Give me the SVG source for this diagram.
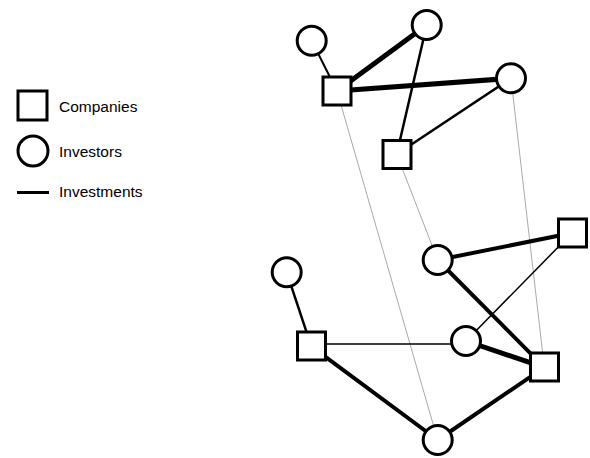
<svg xmlns="http://www.w3.org/2000/svg" width="590" height="458" viewBox="0 0 590 458">
<style>
.co{fill:#fff;stroke:#000;stroke-width:3}
.iv{fill:#fff;stroke:#000;stroke-width:3}
.e{stroke:#000;fill:none}
.g{stroke:#aaa;stroke-width:1;fill:none}
.t{font-family:"Liberation Sans",Arial,sans-serif;font-size:15.5px;fill:#000}
</style>
<rect width="590" height="458" fill="#fff"/>
<g id="legend">
<rect class="co" x="18" y="91" width="29" height="29"/>
<text class="t" x="59" y="112">Companies</text>
<circle class="iv" cx="33" cy="151" r="15"/>
<text class="t" x="59" y="157">Investors</text>
<line class="e" x1="17" y1="192.5" x2="49" y2="192.5" stroke-width="3"/>
<text class="t" x="59" y="197">Investments</text>
</g>
<g id="connectors">
<line class="g" x1="337" y1="91" x2="437.7" y2="440"/>
<line class="g" x1="396.7" y1="154.3" x2="437.7" y2="260"/>
<line class="g" x1="511" y1="78.3" x2="544.3" y2="367.3"/>
<line class="e" stroke-width="2" x1="311.7" y1="40.7" x2="337" y2="91"/>
<line class="e" stroke-width="5" x1="426.7" y1="25" x2="337" y2="91"/>
<line class="e" stroke-width="5" x1="511" y1="78.3" x2="337" y2="91"/>
<line class="e" stroke-width="2.5" x1="426.7" y1="25" x2="396.7" y2="154.3"/>
<line class="e" stroke-width="2.5" x1="511" y1="78.3" x2="396.7" y2="154.3"/>
<line class="e" stroke-width="4" x1="437.7" y1="260" x2="572" y2="233"/>
<line class="e" stroke-width="4" x1="437.7" y1="260" x2="544.3" y2="367.3"/>
<line class="e" stroke-width="1.5" x1="572" y1="233" x2="466" y2="341"/>
<line class="e" stroke-width="2.5" x1="286.7" y1="272.3" x2="311.3" y2="346.3"/>
<line class="e" stroke-width="1.5" x1="311.3" y1="344" x2="466" y2="344"/>
<line class="e" stroke-width="5" x1="466" y1="341" x2="544.3" y2="367.3"/>
<line class="e" stroke-width="4" x1="311.3" y1="346.3" x2="437.7" y2="440"/>
<line class="e" stroke-width="4" x1="437.7" y1="440" x2="544.3" y2="367.3"/>
</g>
<g id="inv1"><circle class="iv" cx="311.7" cy="40.7" r="14.5"/></g>
<g id="inv2"><circle class="iv" cx="426.7" cy="25" r="14.5"/></g>
<g id="inv3"><circle class="iv" cx="511" cy="78.3" r="14.5"/></g>
<g id="inv4"><circle class="iv" cx="437.7" cy="260" r="14.5"/></g>
<g id="inv5"><circle class="iv" cx="286.7" cy="272.3" r="14.5"/></g>
<g id="inv6"><circle class="iv" cx="466" cy="341" r="14.5"/></g>
<g id="inv7"><circle class="iv" cx="437.7" cy="440" r="14.5"/></g>
<g id="co1"><rect class="co" x="323" y="77" width="28" height="28"/></g>
<g id="co2"><rect class="co" x="383" y="140.5" width="28" height="28"/></g>
<g id="co3"><rect class="co" x="558.5" y="219" width="28" height="28"/></g>
<g id="co4"><rect class="co" x="297.5" y="332" width="28" height="28"/></g>
<g id="co5"><rect class="co" x="530.5" y="353" width="28" height="28"/></g>
</svg>
